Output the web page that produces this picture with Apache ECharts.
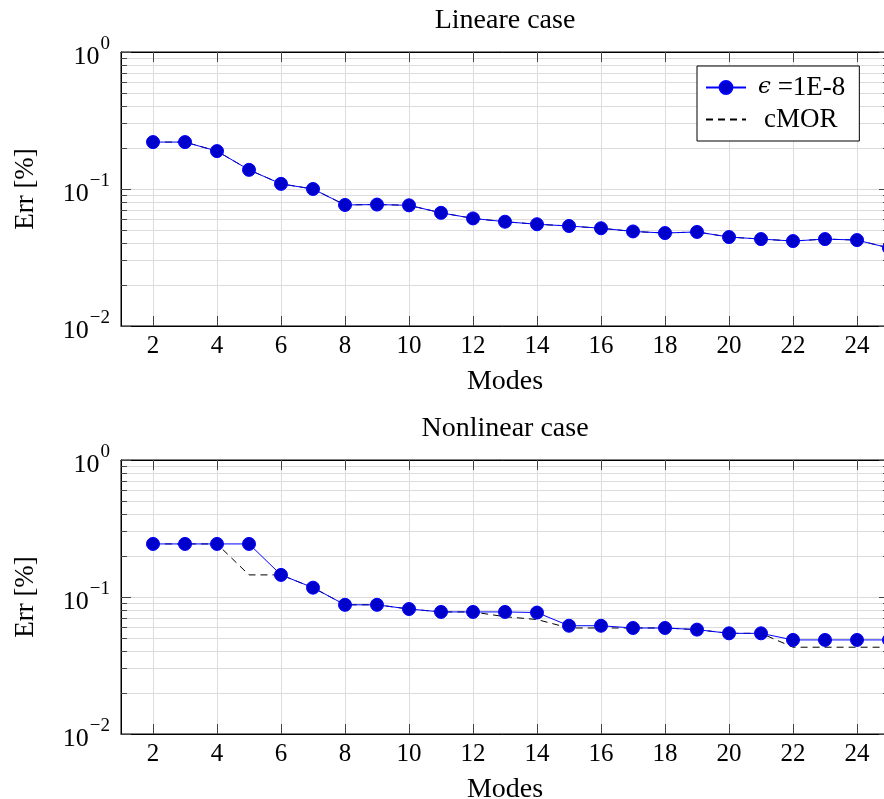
<!DOCTYPE html>
<html>
<head>
<meta charset="utf-8">
<script src="https://cdn.jsdelivr.net/npm/echarts@6.0.0/dist/echarts.min.js"></script>
<style>
  html, body { margin: 0; padding: 0; background: #fff; }
  #chart { width: 884px; height: 799px; }
</style>
</head>
<body>
<div id="chart"></div>
<script>
// number of modes
const modes = [2, 3, 4, 5, 6, 7, 8, 9, 10, 11, 12, 13, 14, 15, 16, 17, 18, 19, 20, 21, 22, 23, 24, 25];
// linear case
const linEps = [0.220, 0.220, 0.189, 0.138, 0.109, 0.100, 0.0765, 0.0770, 0.0760, 0.0670, 0.0610, 0.0577, 0.0553, 0.0537, 0.0517, 0.0490, 0.0477, 0.0486, 0.0446, 0.0431, 0.0417, 0.0431, 0.0424, 0.0371];
const linCmor = [0.220, 0.220, 0.189, 0.138, 0.109, 0.100, 0.0765, 0.0770, 0.0760, 0.0670, 0.0610, 0.0577, 0.0553, 0.0537, 0.0517, 0.0490, 0.0477, 0.0486, 0.0446, 0.0431, 0.0417, 0.0431, 0.0424, 0.0371];
// nonlinear case
const nonEps = [0.244, 0.244, 0.244, 0.244, 0.145, 0.117, 0.0877, 0.0877, 0.0817, 0.0778, 0.0778, 0.0778, 0.0770, 0.0617, 0.0617, 0.0594, 0.0594, 0.0578, 0.0543, 0.0543, 0.0486, 0.0486, 0.0486, 0.0486];
const nonCmor = [0.244, 0.244, 0.244, 0.145, 0.145, 0.117, 0.0877, 0.0877, 0.0817, 0.0778, 0.0778, 0.0718, 0.0685, 0.0594, 0.0594, 0.0594, 0.0594, 0.0578, 0.0543, 0.0543, 0.0430, 0.0430, 0.0430, 0.0430];

const titles = ["Lineare case", "Nonlinear case"];
const xTicks = [2, 4, 6, 8, 10, 12, 14, 16, 18, 20, 22, 24];
const yMajor = [0.01, 0.1, 1];
const yMinor = [0.02, 0.03, 0.04, 0.05, 0.06, 0.07, 0.08, 0.09, 0.2, 0.3, 0.4, 0.5, 0.6, 0.7, 0.8, 0.9];

const font = "Liberation Serif";
const gridCol = "#dcdcdc";
const tickCol = "#444";
const gridTops = [52, 460];

let chart = echarts.init(document.getElementById("chart"));

function pairs(ys) {
  return modes.map((m, i) => [m, ys[i]]);
}

let grids = [], xAxes = [], yAxes = [], series = [], titleList = [];
gridTops.forEach((top, g) => {
  grids.push({
    left: 121, top: top, width: 768, height: 274, outerBoundsMode: "none", containLabel: false,
    show: true, borderColor: "#000", borderWidth: 1, backgroundColor: "transparent"
  });
  titleList.push({
    text: titles[g], left: 500, top: top - 50, textAlign: "center",
    textStyle: { fontFamily: font, fontSize: 28, fontWeight: "normal", color: "#000" }
  });
  // bottom x axis with labels
  xAxes.push({
    gridIndex: g, type: "value", min: 1, max: 25, position: "bottom",
    name: "Modes", nameLocation: "middle", nameGap: 42,
    nameTextStyle: { fontFamily: font, fontSize: 28, color: "#000" },
    axisLine: { show: true, lineStyle: { color: "#000" } },
    axisTick: { show: true, inside: true, length: 10, customValues: xTicks, lineStyle: { color: tickCol } },
    axisLabel: { customValues: xTicks, margin: 8, fontFamily: font, fontSize: 25, color: "#000" },
    splitLine: { show: true, lineStyle: { color: gridCol, width: 1 } }
  });
  // top x axis, ticks only
  xAxes.push({
    gridIndex: g, type: "value", min: 1, max: 25, position: "top",
    axisLine: { show: true, lineStyle: { color: "#000" } },
    axisTick: { show: true, inside: true, length: 10, customValues: xTicks, lineStyle: { color: tickCol } },
    axisLabel: { show: false },
    splitLine: { show: false }
  });
  // main log axis
  yAxes.push({
    gridIndex: g, type: "log", logBase: 10, min: 0.01, max: 1, position: "left",
    name: "Err [%]", nameLocation: "middle", nameGap: 82, nameRotate: 90,
    nameTextStyle: { fontFamily: font, fontSize: 27, color: "#000" },
    axisLine: { show: true, lineStyle: { color: "#000" } },
    axisTick: { show: true, inside: true, length: 10, customValues: yMajor, lineStyle: { color: tickCol } },
    axisLabel: {
      customValues: yMajor, margin: 11,
      formatter: function (v) {
        let e = Math.round(Math.log10(v));
        return "{b|10}{s|" + (e < 0 ? "\u2212" + (-e) : e) + "}";
      },
      rich: {
        b: { fontFamily: font, fontSize: 26, color: "#000", padding: [11, 0, 0, 0] },
        s: { fontFamily: font, fontSize: 19, color: "#000", padding: [0, 0, 15, 1] }
      }
    },
    splitLine: { show: true, lineStyle: { color: gridCol, width: 1 } }
  });
  // minor log grid
  yAxes.push({
    gridIndex: g, type: "log", logBase: 10, min: 0.01, max: 1, position: "left",
    axisLine: { show: false },
    axisTick: { show: true, inside: true, length: 6, customValues: yMinor, lineStyle: { color: tickCol } },
    axisLabel: { show: false },
    splitLine: { show: true, lineStyle: { color: gridCol, width: 1 } }
  });
  // right side ticks
  yAxes.push({
    gridIndex: g, type: "log", logBase: 10, min: 0.01, max: 1, position: "right",
    axisLine: { show: false },
    axisTick: { show: true, inside: true, length: 10, customValues: yMajor, lineStyle: { color: tickCol } },
    axisLabel: { show: false },
    splitLine: { show: false }
  });
  yAxes.push({
    gridIndex: g, type: "log", logBase: 10, min: 0.01, max: 1, position: "right",
    axisLine: { show: false },
    axisTick: { show: true, inside: true, length: 6, customValues: yMinor, lineStyle: { color: tickCol } },
    axisLabel: { show: false },
    splitLine: { show: false }
  });
});

const epsData = [linEps, nonEps];
const cmorData = [linCmor, nonCmor];
[0, 1].forEach(g => {
  series.push({
    name: "cMOR", type: "line", xAxisIndex: g * 2, yAxisIndex: g * 4,
    data: pairs(cmorData[g]), symbol: "none", z: 2,
    lineStyle: { color: "#000", width: 1, type: [7, 5] },
    itemStyle: { color: "#000" }
  });
  series.push({
    name: "\u03f5 =1E-8", type: "line", xAxisIndex: g * 2, yAxisIndex: g * 4,
    data: pairs(epsData[g]), symbol: "circle", symbolSize: 13, z: 3,
    lineStyle: { color: "#0000ff", width: 1 },
    itemStyle: { color: "#0000cc", borderColor: "#0000ff", borderWidth: 1 }
  });
});

let option = {
  animation: false,
  backgroundColor: "#fff",
  title: titleList,
  legend: {
    left: 697, top: 66, orient: "vertical",
    data: [
      { name: "\u03f5 =1E-8" },
      { name: "cMOR", itemStyle: { opacity: 0 } }
    ],
    itemWidth: 40, itemHeight: 16, itemGap: 5,
    padding: [8, 14, 8, 8],
    borderColor: "#000", borderWidth: 1, borderRadius: 0, backgroundColor: "#fff",
    formatter: function (name) {
      return name === "cMOR" ? "{c|cMOR}" : "{e|\u03f5} {t|=1E-8}";
    },
    textStyle: {
      fontFamily: font, fontSize: 27, color: "#000",
      rich: {
        e: { fontFamily: "DejaVu Serif", fontStyle: "italic", fontSize: 23, color: "#000", padding: [0, 0, 0, 7] },
        t: { fontFamily: font, fontSize: 27, color: "#000" },
        c: { fontFamily: font, fontSize: 27, color: "#000", padding: [0, 0, 0, 13] }
      }
    }
  },
  grid: grids,
  xAxis: xAxes,
  yAxis: yAxes,
  series: series
};
chart.setOption(option);
</script>
</body>
</html>
